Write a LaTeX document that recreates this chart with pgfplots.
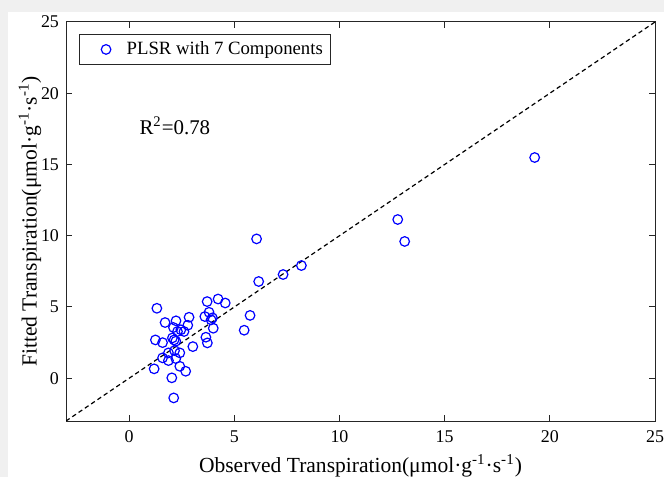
\documentclass[border=0pt]{standalone}
\usepackage{pgfplots}
\pgfplotsset{compat=1.18}
\usepackage{fontspec}
\setmainfont{Liberation Serif}

\definecolor{mblue}{RGB}{0,0,255}
\definecolor{axgray}{RGB}{38,38,38}
\definecolor{bggray}{RGB}{240,240,240}

\pgfplotstableread{
x y
19.28 15.49
12.77 11.14
13.10 9.60
8.19 7.91
7.32 7.28
6.06 9.78
6.16 6.79
5.75 4.41
5.47 3.37
4.57 5.28
4.23 5.56
3.71 5.38
1.32 4.91
1.71 3.91
2.23 4.03
2.85 4.28
2.79 3.72
2.11 3.56
2.46 3.40
2.61 3.28
2.30 3.28
3.60 4.33
3.80 4.63
3.90 4.10
3.96 4.24
4.00 3.51
3.65 2.88
3.72 2.48
3.03 2.22
1.25 2.69
1.59 2.50
2.06 2.83
2.14 2.69
2.22 2.60
2.16 1.94
2.41 1.78
1.87 1.78
1.59 1.43
1.87 1.24
2.22 1.38
2.41 0.84
2.69 0.49
1.19 0.66
2.03 0.03
2.12 -1.38
}\pts

\begin{document}
\begin{tikzpicture}
% figure background (light gray strips at top and left)
\fill[bggray] (-33bp,-28bp) rectangle (299bp,210.5bp);
\fill[white] (-29bp,-28bp) rectangle (299bp,204.5bp);
\begin{axis}[
    scale only axis,
    width=294.5bp, height=199.5bp,
    xmin=-3, xmax=25, ymin=-3, ymax=25,
    xtick={0,5,...,25}, ytick={0,5,...,25},
    tick align=inside,
    major tick length=3bp,
    axis line style={axgray, line width=0.5bp},
    every tick/.style={axgray, line width=0.5bp},
    tick label style={font=\fontsize{9}{10}\selectfont, text=black},
    xticklabel style={yshift=-1.2bp},
    /pgf/number format/assume math mode=true,
    xlabel={Observed Transpiration(μmol·g\textsuperscript{-1}·s\textsuperscript{-1})},
    ylabel={Fitted Transpiration(μmol·g\textsuperscript{-1}·s\textsuperscript{-1})},
    label style={font=\fontsize{10.8}{12}\selectfont},
    x label style={at={(axis description cs:0.5,-0.1128)}, anchor=center},
    y label style={at={(axis description cs:-0.0611,0.5)}, anchor=center},
    legend style={at={(0.022,0.97)}, anchor=north west, draw=axgray,
        line width=0.5bp, font=\fontsize{9.4}{11}\selectfont,
        inner xsep=2bp, inner ysep=1.5bp},
    legend image code/.code={%
        \draw[mark repeat=2, mark phase=2, #1] plot coordinates {(0bp,0bp) (11bp,0bp) (19bp,0bp)};
        \path (0bp,0bp) (19bp,0bp);},
    legend cell align=left,
]
\addplot[only marks, mark=o, mark size=2.4bp, mblue, line width=0.6bp] table {\pts};
\addlegendentry{PLSR with 7 Components}
\addplot[black, dashed, line width=0.6bp, dash pattern=on 2.2bp off 1.6bp, forget plot] coordinates {(-3,-3) (25,25)};
\node[anchor=west, font=\fontsize{10.5}{12}\selectfont] at (axis cs:0.16,17.7) {R\textsuperscript{2}=0.78};
\end{axis}
\pgfresetboundingbox
\path[use as bounding box] (-33bp,-28bp) rectangle (299bp,210.5bp);
\end{tikzpicture}
\end{document}
